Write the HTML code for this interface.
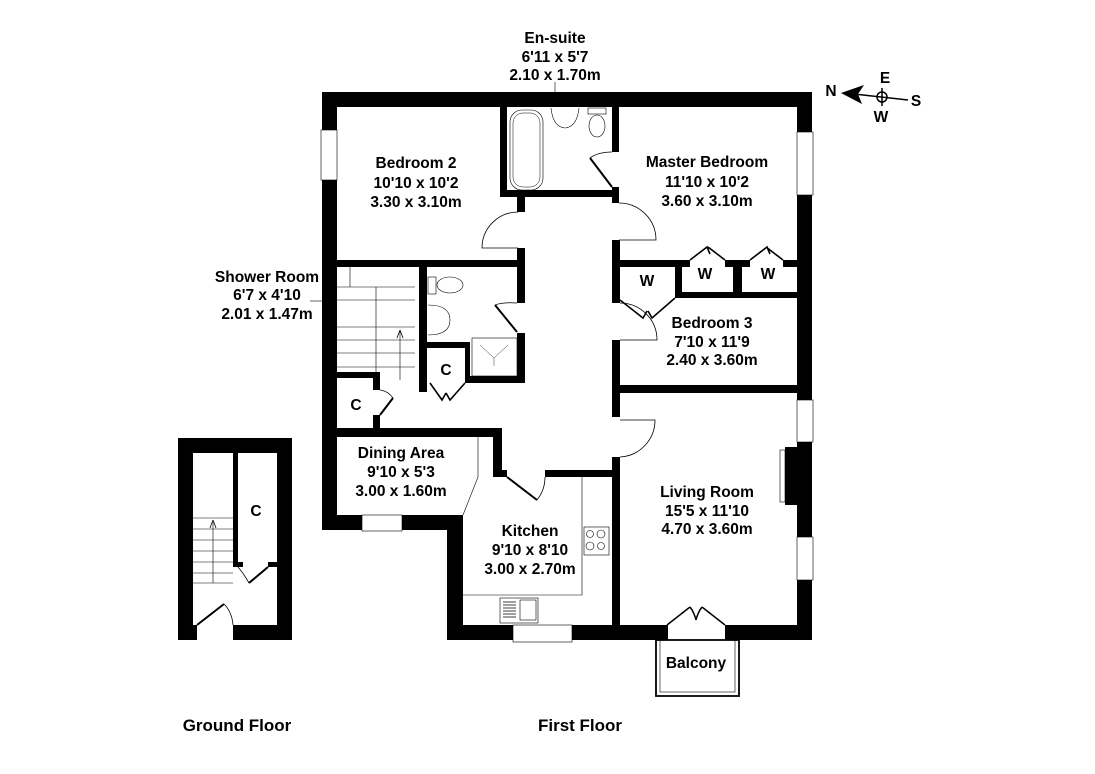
<!DOCTYPE html>
<html><head><meta charset="utf-8"><style>
html,body{margin:0;padding:0;background:#fff}
svg{display:block}
text{font-family:"Liberation Sans",Arial,sans-serif;font-weight:bold;font-size:15.5px;fill:#000;text-anchor:middle}
text.big{font-size:17px}
</style></head><body>
<svg width="1095" height="774" viewBox="0 0 1095 774" xmlns="http://www.w3.org/2000/svg">
<rect width="1095" height="774" fill="#fff"/>
<g fill="#000">
<rect x="322" y="92" width="490" height="15"/>
<rect x="322" y="92" width="15" height="438"/>
<rect x="797" y="92" width="15" height="548"/>
<rect x="447" y="625" width="365" height="15"/>
<rect x="447" y="515" width="16" height="125"/>
<rect x="322" y="515" width="140" height="15"/>
<rect x="322" y="428" width="180" height="9"/>
<rect x="493" y="428" width="9" height="49"/>
<rect x="493" y="470" width="14" height="7"/>
<rect x="545" y="470" width="73" height="7"/>
<rect x="612" y="107" width="7" height="45"/>
<rect x="612" y="187" width="7" height="16"/>
<rect x="612" y="240" width="8" height="63"/>
<rect x="612" y="340" width="8" height="77"/>
<rect x="612" y="457" width="8" height="168"/>
<rect x="500" y="107" width="7" height="90"/>
<rect x="500" y="190" width="119" height="7"/>
<rect x="517" y="197" width="8" height="15"/>
<rect x="517" y="248" width="8" height="55"/>
<rect x="517" y="333" width="8" height="50"/>
<rect x="322" y="260" width="203" height="7"/>
<rect x="419" y="267" width="8" height="125"/>
<rect x="427" y="342" width="43" height="6"/>
<rect x="470" y="376" width="55" height="7"/>
<rect x="465" y="342" width="5" height="41"/>
<rect x="322" y="372" width="58" height="6"/>
<rect x="373" y="372" width="7" height="18"/>
<rect x="373" y="415" width="7" height="13"/>
<rect x="612" y="260" width="78" height="7"/>
<rect x="725" y="260" width="25" height="7"/>
<rect x="783" y="260" width="14" height="7"/>
<rect x="675" y="260" width="7" height="38"/>
<rect x="733" y="260" width="9" height="38"/>
<rect x="675" y="292" width="122" height="6"/>
<rect x="612" y="385" width="200" height="8"/>
<rect x="785" y="447" width="12" height="58"/>
<rect x="178" y="438" width="114" height="15"/>
<rect x="178" y="438" width="15" height="202"/>
<rect x="277" y="438" width="15" height="202"/>
<rect x="178" y="625" width="19" height="15"/>
<rect x="233" y="625" width="59" height="15"/>
<rect x="233" y="453" width="5" height="110"/>
<rect x="233" y="562" width="10" height="5"/>
<rect x="268" y="562" width="9" height="5"/>
</g>
<g fill="#fff" stroke="#000" stroke-width="0.6">
<rect x="321" y="130" width="16" height="50"/>
<rect x="797" y="132" width="16" height="63"/>
<rect x="797" y="400" width="16" height="42"/>
<rect x="797" y="537" width="16" height="43"/>
<rect x="362" y="515" width="40" height="16"/>
<rect x="513" y="625" width="59" height="17"/>
<rect x="780" y="450" width="5" height="52"/>
</g>
<rect x="668" y="624" width="57" height="17" fill="#fff"/>
<g fill="none" stroke="#000" stroke-width="1">
<rect x="656" y="640" width="83" height="56" stroke-width="1.8"/>
<rect x="660" y="640" width="75" height="52" stroke-width="0.6"/>
<path d="M667,625 L690,607 M725,625 L702,607 M690,607 Q694,612 696,620 M702,607 Q698,612 696,620" stroke-width="1.5"/>
<path d="M518,212 A36,36 0 0 0 482,248 L518,248" stroke-width="0.8"/>
<path d="M619,203 A37,37 0 0 1 656,240 L619,240" stroke-width="0.8"/>
<path d="M612,187 L590,158" stroke-width="2"/><path d="M590,158 Q598,152 612,152" stroke-width="0.8"/>
<path d="M517,332 L495,305" stroke-width="2"/><path d="M495,305 Q503,302 517,303" stroke-width="0.8"/>
<path d="M620,303 A37,37 0 0 1 657,340 L620,340" stroke-width="0.8"/>
<path d="M620,420 L655,420 A37,37 0 0 1 620,457" stroke-width="0.8"/>
<path d="M507,477 L537,500" stroke-width="2"/><path d="M537,500 Q545,490 545,477" stroke-width="0.8"/>
<path d="M463,515 L478,477 M478,437 L478,477" stroke-width="0.6"/>
<path d="M380,415 L393,398" stroke-width="2"/><path d="M393,398 Q388,391 380,390" stroke-width="0.8"/>
<path d="M620,300 L643,318 L647,311 M675,298 L652,318 L648,311" stroke-width="1.6"/>
<path d="M690,260 L707,247 L710,254 M725,260 L708,247" stroke-width="1.6"/>
<path d="M750,260 L767,247 L770,254 M783,260 L766,247" stroke-width="1.6"/>
<path d="M430,383 L442,400 L446,393 M465,383 L450,400 L446,393" stroke-width="1.6"/>
<path d="M337,287 H415 M337,300 H415 M337,327 H415 M337,340 H415 M337,353 H415 M337,367 H415 M376,287 V380 M400,330 V380 M350,287 V267" stroke-width="0.6"/>
<path d="M400,330 L397,338 M400,330 L403,338" stroke-width="0.8"/>
<rect x="510" y="110" width="33" height="80" rx="12" stroke-width="0.6"/>
<rect x="513" y="113" width="27" height="74" rx="10" stroke-width="0.5"/>
<path d="M551,108 Q553,127 565,128 Q577,127 579,108" stroke-width="0.6"/>
<ellipse cx="597" cy="126" rx="8" ry="11" stroke-width="0.6"/>
<rect x="588" y="108" width="18" height="6" stroke-width="0.6"/>
<ellipse cx="450" cy="285" rx="13" ry="8" stroke-width="0.6"/>
<rect x="428" y="277" width="8" height="17" stroke-width="0.6"/>
<path d="M428,305 Q450,305 450,320 Q450,335 428,335" stroke-width="0.6"/>
<rect x="472" y="338" width="45" height="38" stroke-width="0.6"/>
<path d="M480,345 L494,358 L508,345 M494,358 V366" stroke-width="0.4"/>
<path d="M582,477 V595 H463" stroke-width="0.6"/>
<rect x="584" y="527" width="25" height="28" stroke-width="0.6"/>
<circle cx="590" cy="534" r="3.5" stroke-width="0.6"/><circle cx="601" cy="534" r="4" stroke-width="0.6"/>
<circle cx="590" cy="546" r="4" stroke-width="0.6"/><circle cx="601" cy="546" r="3.5" stroke-width="0.6"/>
<rect x="500" y="598" width="38" height="25" stroke-width="0.6"/>
<rect x="520" y="600" width="16" height="20" stroke-width="0.6"/>
<path d="M503,602 H516 M503,605 H516 M503,608 H516 M503,611 H516 M503,614 H516 M503,617 H516" stroke-width="0.7"/>
<path d="M193,518 H233 M193,529 H233 M193,540 H233 M193,551 H233 M193,562 H233 M193,573 H233 M193,583 H233 M213,583 V522" stroke-width="0.6"/>
<path d="M213,520 L210,528 M213,520 L216,528" stroke-width="0.8"/>
<path d="M249,583 L268,567" stroke-width="2"/><path d="M238,567 Q244,574 249,583" stroke-width="0.8"/>
<path d="M197,625 L224,604" stroke-width="2"/><path d="M224,604 Q232,612 233,625" stroke-width="0.8"/>
<line x1="555" y1="82" x2="555" y2="92" stroke-width="0.6"/>
<line x1="310" y1="301" x2="322" y2="301" stroke-width="0.6"/>
<line x1="845" y1="93" x2="908" y2="100" stroke-width="1.5"/>
<circle cx="882" cy="97" r="5" stroke-width="1.5"/>
<line x1="882" y1="88" x2="882" y2="106" stroke-width="1.5"/>
</g>
<path d="M841,93 L864,85 L858,94 L862,104 Z" fill="#000"/>
<text x="831" y="96">N</text><text x="916" y="106">S</text>
<text x="885" y="83">E</text><text x="881" y="122">W</text>
<text x="555" y="43">En-suite</text><text x="555" y="62">6'11 x 5'7</text><text x="555" y="80">2.10 x 1.70m</text>
<text x="416" y="168">Bedroom 2</text><text x="416" y="188">10'10 x 10'2</text><text x="416" y="207">3.30 x 3.10m</text>
<text x="707" y="167">Master Bedroom</text><text x="707" y="187">11'10 x 10'2</text><text x="707" y="206">3.60 x 3.10m</text>
<text x="267" y="282">Shower Room</text><text x="267" y="300">6'7 x 4'10</text><text x="267" y="319">2.01 x 1.47m</text>
<text x="647" y="286">W</text><text x="705" y="279">W</text><text x="768" y="279">W</text>
<text x="712" y="328">Bedroom 3</text><text x="712" y="347">7'10 x 11'9</text><text x="712" y="365">2.40 x 3.60m</text>
<text x="446" y="375">C</text><text x="356" y="410">C</text><text x="256" y="516">C</text>
<text x="401" y="458">Dining Area</text><text x="401" y="477">9'10 x 5'3</text><text x="401" y="496">3.00 x 1.60m</text>
<text x="707" y="497">Living Room</text><text x="707" y="516">15'5 x 11'10</text><text x="707" y="534">4.70 x 3.60m</text>
<text x="530" y="536">Kitchen</text><text x="530" y="555">9'10 x 8'10</text><text x="530" y="574">3.00 x 2.70m</text>
<text x="696" y="668">Balcony</text>
<text class="big" x="237" y="731">Ground Floor</text><text class="big" x="580" y="731">First Floor</text>
</svg>
</body></html>
